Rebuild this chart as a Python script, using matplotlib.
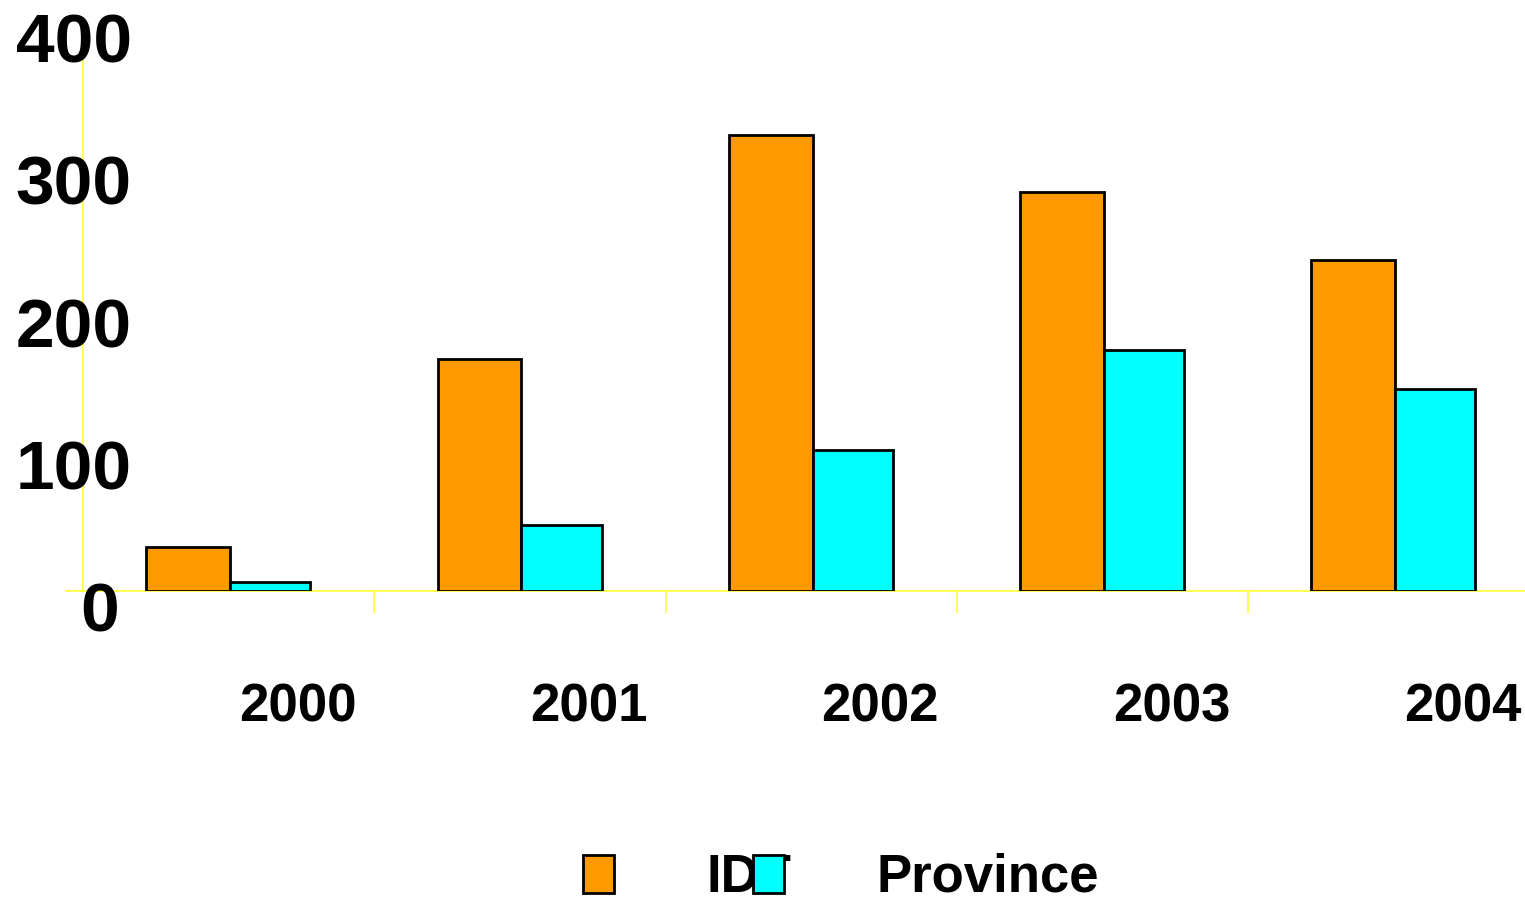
import matplotlib
import numpy as np
from matplotlib import pyplot as plt
from matplotlib.patches import Rectangle
from matplotlib.transforms import ScaledTranslation

matplotlib.use("Agg")

plt.rcParams["font.family"] = ["Liberation Sans", "DejaVu Sans"]
plt.rcParams["font.weight"] = "bold"

YEARS = ["2000", "2001", "2002", "2003", "2004"]
IDT = [31, 163, 320, 280, 232]
PROVINCE = [6, 46, 99, 169, 142]
Y_TICKS = [0, 100, 200, 300, 400]

ORANGE = "#ff9900"
CYAN = "#00ffff"
AXIS_YELLOW = "#ffff33"

W, H = 1525, 900
STEP = 291.3  # pixels per category
fig = plt.figure(figsize=(W / 100, H / 100), dpi=100)
# axes box in pixels: left 66, right 1525, bottom 591 from top, top 21 from top
ax = fig.add_axes([66 / W, (H - 591) / H, (W - 66) / W, 570 / H])

x = np.arange(len(YEARS)) + 0.005
bw_a, bw_b = 0.288, 0.275
ax.bar(x, IDT, -bw_a, align="edge", color=ORANGE, edgecolor="black", linewidth=2.0, zorder=3)
ax.bar(x, PROVINCE, bw_b, align="edge", color=CYAN, edgecolor="black", linewidth=2.0, zorder=3)

ax.set_xlim(-0.5 - 17 / STEP, -0.5 + (W - 83) / STEP)
ax.set_ylim(0, 400)

for side in ["top", "right"]:
    ax.spines[side].set_visible(False)
ax.spines["left"].set_position(("data", -0.5))
for side in ["left", "bottom"]:
    ax.spines[side].set_color(AXIS_YELLOW)
    ax.spines[side].set_linewidth(1.2)
    ax.spines[side].set_zorder(0.5)

# category dividers as ticks below the axis
ax.set_xticks(np.arange(1, len(YEARS)) - 0.5)
ax.set_xticklabels([])
ax.tick_params(axis="x", which="major", direction="out", length=16, width=1.2, color=AXIS_YELLOW)
ax.set_xticks(x + 0.232, minor=True)
ax.set_xticklabels(YEARS, minor=True, fontsize=38, fontweight="bold")
ax.tick_params(axis="x", which="minor", length=0, pad=66)

ax.set_yticks(Y_TICKS)
ax.set_yticklabels([str(v) for v in Y_TICKS], fontsize=50, fontweight="bold")
ax.tick_params(axis="y", length=0, pad=0)
for i, lab in enumerate(ax.get_yticklabels()):
    dx = 49 if i > 0 else 36
    lab.set_transform(lab.get_transform() + ScaledTranslation(dx / 100, -23 / 100, fig.dpi_scale_trans))
    lab.set_verticalalignment("center")
    lab.set_zorder(5)

# legend drawn in figure pixels
fig.text(706 / W, 1 - 878 / H, "IDT", fontsize=38, fontweight="bold", va="center", ha="left")
fig.text(877 / W, 1 - 878 / H, "Province", fontsize=38, fontweight="bold", va="center", ha="left")
for x0, col in [(583, ORANGE), (753, CYAN)]:
    fig.add_artist(Rectangle((x0 / W, 1 - 893 / H), 31 / W, 38 / H, transform=fig.transFigure,
                             facecolor=col, edgecolor="black", linewidth=2.0, zorder=10))

fig.savefig("out.png", dpi=100, facecolor="white")
